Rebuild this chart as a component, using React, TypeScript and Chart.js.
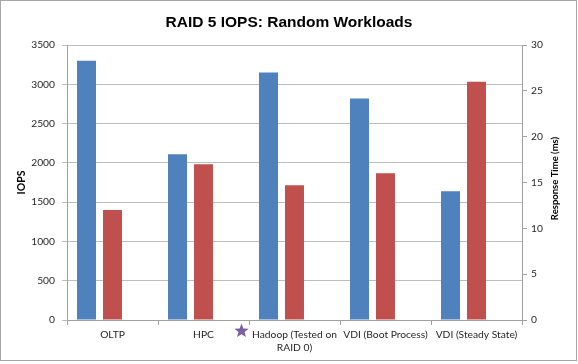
import React, { useEffect, useRef } from "react";
import { Chart, registerables } from "chart.js";

Chart.register(...registerables);

const chartTitle = "RAID 5 IOPS: Random Workloads";
const categories: (string | string[])[] = [
  "OLTP",
  "HPC",
  ["Hadoop (Tested on", "RAID 0)"],
  "VDI (Boot Process)",
  "VDI (Steady State)",
];
const iopsValues = [3300, 2110, 3150, 2820, 1640];
const responseTimeValues = [12, 17, 14.7, 16, 26];
const emptySlot = [null, null, null, null, null];
const leftAxisTitle = "IOPS";
const rightAxisTitle = "Response Time (ms)";
const starCategoryIndex = 2;

const tickFont = { family: "Lato", size: 10.25 };
const axisColor = "#a0a0a0";
const gridColor = "#bdbdbd";
const textColor = "#262626";

const decorPlugin = {
  id: "decor",
  afterDraw(chart: any) {
    const ctx = chart.ctx;
    const area = chart.chartArea;
    // right axis title, reading bottom to top
    ctx.save();
    ctx.font = "bold 9.5px Lato";
    ctx.fillStyle = "#000";
    ctx.textAlign = "center";
    ctx.textBaseline = "middle";
    ctx.translate(555, (area.top + area.bottom) / 2 - 4);
    ctx.rotate(-Math.PI / 2);
    ctx.fillText(rightAxisTitle, 0, 0);
    ctx.restore();
    // purple star next to the Hadoop label
    const xs = chart.scales.x;
    const cx = xs.getPixelForValue(starCategoryIndex) - 53;
    const cy = area.bottom + 11;
    ctx.save();
    ctx.beginPath();
    for (let i = 0; i < 10; i++) {
      const r = i % 2 === 0 ? 7.5 : 3.2;
      const a = -Math.PI / 2 + (i * Math.PI) / 5;
      const px = cx + r * Math.cos(a);
      const py = cy + r * Math.sin(a);
      if (i === 0) ctx.moveTo(px, py);
      else ctx.lineTo(px, py);
    }
    ctx.closePath();
    ctx.fillStyle = "#7b5fa3";
    ctx.fill();
    ctx.restore();
  },
};

export default function App() {
  const ref = useRef<HTMLCanvasElement | null>(null);

  useEffect(() => {
    document.body.style.margin = "0";
    if (!ref.current) return;
    const chart = new Chart(ref.current, {
      type: "bar",
      data: {
        labels: categories as any,
        datasets: [
          {
            label: "IOPS",
            data: iopsValues,
            backgroundColor: "#4f81bd",
            yAxisID: "y",
          },
          {
            label: "Response Time (ms)",
            data: responseTimeValues,
            backgroundColor: "#c0504d",
            yAxisID: "y1",
          },
          {
            label: "",
            data: emptySlot as any,
            backgroundColor: "rgba(0,0,0,0)",
            yAxisID: "y",
          },
        ],
      },
      options: {
        responsive: false,
        animation: false,
        layout: { padding: 0 },
        datasets: {
          bar: { categoryPercentage: 0.857, barPercentage: 0.73 },
        },
        plugins: {
          legend: { display: false },
          tooltip: { enabled: false },
          title: {
            display: true,
            text: chartTitle,
            color: "#000",
            font: { family: "Liberation Sans", size: 15.5, weight: "bold", lineHeight: 1.2 },
            padding: { top: 13, bottom: 13.4 },
          },
        },
        scales: {
          x: {
            offset: true,
            grid: {
              offset: true,
              drawOnChartArea: false,
              drawTicks: true,
              tickLength: 5,
              color: axisColor,
            },
            border: { color: axisColor },
            ticks: {
              font: tickFont,
              color: textColor,
              padding: 4,
              maxRotation: 0,
              autoSkip: false,
            },
            afterFit: (s: any) => {
              s.height = 44;
            },
          },
          y: {
            position: "left",
            min: 0,
            max: 3500,
            ticks: {
              stepSize: 500,
              font: tickFont,
              color: textColor,
              padding: 7,
              callback: (v: any) => String(v),
            },
            grid: { color: gridColor, tickLength: 5 },
            border: { color: axisColor },
            title: {
              display: true,
              text: leftAxisTitle,
              color: "#000",
              font: { family: "Lato", size: 10.5, weight: "bold" },
              padding: { top: 15, bottom: 0 },
            },
            afterFit: (s: any) => {
              s.width = 67;
            },
          },
          y1: {
            position: "right",
            min: 0,
            max: 30,
            ticks: {
              stepSize: 5,
              font: tickFont,
              color: textColor,
              padding: 4,
              callback: (v: any) => String(v),
            },
            grid: { drawOnChartArea: false, color: axisColor, tickLength: 5 },
            border: { color: axisColor },
            afterFit: (s: any) => {
              s.width = 56;
            },
          },
        },
      } as any,
      plugins: [decorPlugin],
    });
    return () => chart.destroy();
  }, []);

  return (
    <div style={{ position: "relative", width: 578, height: 364, background: "#fff" }}>
      <canvas ref={ref} width={578} height={364} style={{ display: "block" }} />
      <div
        style={{
          position: "absolute",
          left: 0,
          top: 0,
          width: 575,
          height: 359,
          border: "1px solid #a6a6a6",
          pointerEvents: "none",
        }}
      />
    </div>
  );
}
